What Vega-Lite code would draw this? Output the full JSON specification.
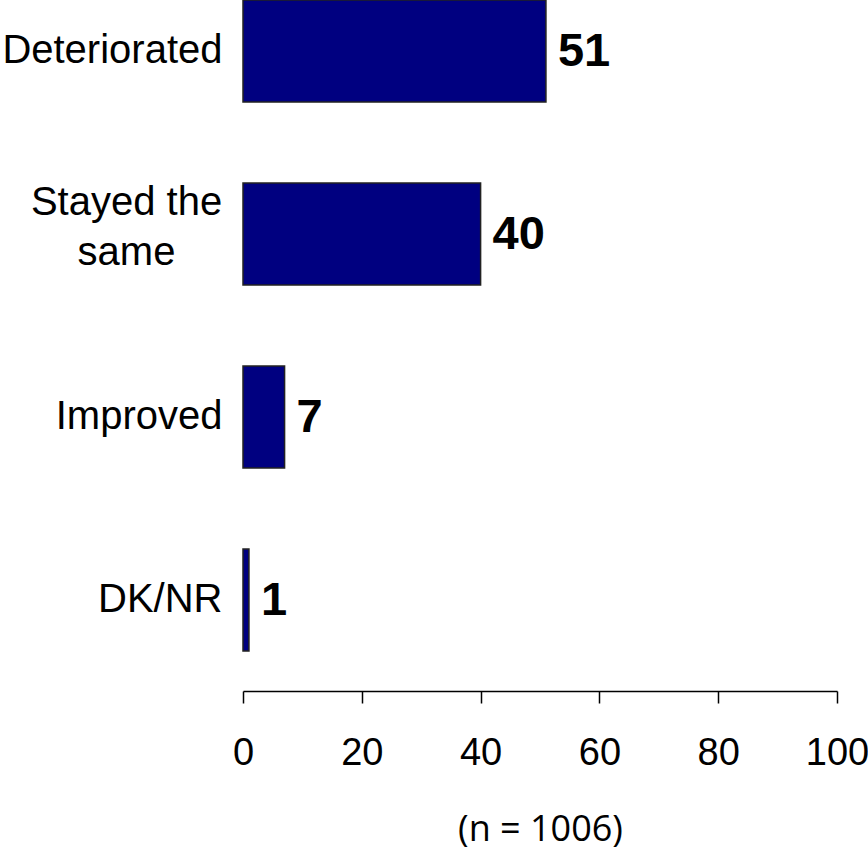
{
  "$schema": "https://vega.github.io/schema/vega-lite/v6.json",
  "autosize": "none",
  "width": 594,
  "height": 651,
  "padding": {"left": 243, "top": 0, "right": 31, "bottom": 202},
  "background": "white",
  "config": {"view": {"stroke": null}},
  "data": {
    "values": [
      {"category": "Deteriorated", "value": 51},
      {"category": "Stayed the same", "value": 40},
      {"category": "Improved", "value": 7},
      {"category": "DK/NR", "value": 1}
    ]
  },
  "encoding": {
    "y": {
      "field": "category",
      "type": "nominal",
      "sort": null,
      "scale": {"paddingInner": 0.443, "paddingOuter": 0},
      "axis": {
        "title": null,
        "domain": false,
        "ticks": false,
        "labelPadding": {"condition": {"test": "datum.value == 'Stayed the same'", "value": 117}, "value": 21},
        "labelAlign": {"condition": {"test": "datum.value == 'Stayed the same'", "value": "center"}, "value": "right"},
        "labelFont": "Liberation Sans",
        "labelFontSize": 40,
        "labelColor": "black",
        "labelLineHeight": 50,
        "labelLimit": 400,
        "labelOffset": {"condition": {"test": "datum.value == 'Stayed the same'", "value": -31}, "value": 0},
        "labelExpr": "datum.value == 'Stayed the same' ? ['Stayed the', 'same'] : datum.value"
      }
    },
    "x": {
      "field": "value",
      "type": "quantitative",
      "scale": {"domain": [0, 100], "nice": false},
      "axis": {
        "title": "(n = 1006)",
        "titleFont": "Open Sans",
        "titleFontSize": 36,
        "titleFontWeight": "normal",
        "titleColor": "black",
        "titlePadding": 40,
        "values": [0, 20, 40, 60, 80, 100],
        "grid": false,
        "offset": 40,
        "domainColor": "black",
        "domainWidth": 1.5,
        "tickColor": "black",
        "tickWidth": 1.5,
        "tickSize": 12,
        "labelFont": "Liberation Sans",
        "labelFontSize": 38,
        "labelColor": "black",
        "labelPadding": 31,
        "labelFlush": false,
        "labelOverlap": false
      }
    }
  },
  "layer": [
    {
      "mark": {"type": "bar", "color": "#000080", "stroke": "#222222", "strokeWidth": 1.5}
    },
    {
      "mark": {
        "type": "text",
        "align": "left",
        "baseline": "middle",
        "dx": 12,
        "dy": 1,
        "font": "Liberation Sans",
        "fontSize": 47,
        "fontWeight": "bold",
        "color": "black"
      },
      "encoding": {"text": {"field": "value", "type": "quantitative"}}
    }
  ]
}
